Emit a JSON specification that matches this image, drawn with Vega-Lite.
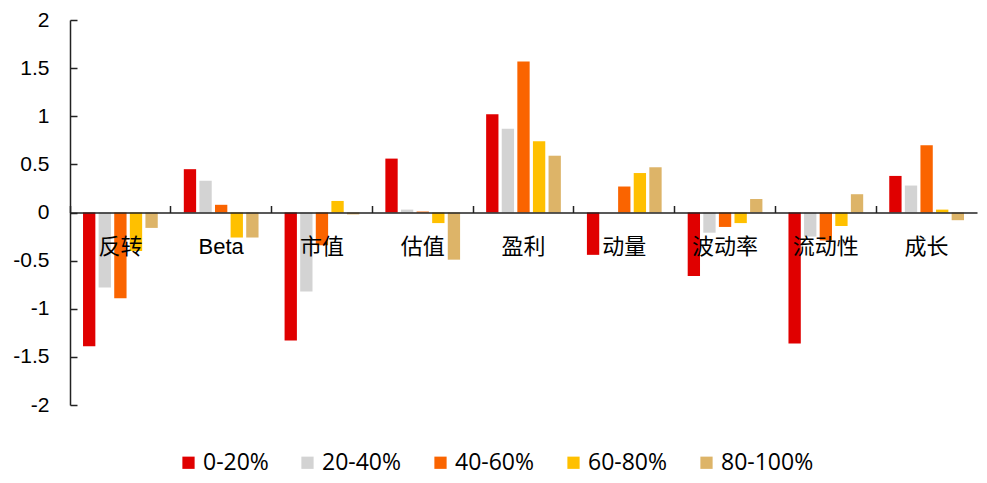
{
  "$schema": "https://vega.github.io/schema/vega-lite/v6.json",
  "width": 907,
  "height": 385,
  "autosize": {"type": "none"},
  "padding": {"left": 70, "top": 20, "right": 10, "bottom": 78},
  "background": "white",
  "config": {"view": {"stroke": null}},
  "data": {
    "values": [
      {"cat": "反转", "grp": "0-20%", "v": -1.39},
      {"cat": "反转", "grp": "20-40%", "v": -0.78},
      {"cat": "反转", "grp": "40-60%", "v": -0.89},
      {"cat": "反转", "grp": "60-80%", "v": -0.4},
      {"cat": "反转", "grp": "80-100%", "v": -0.16},
      {"cat": "Beta", "grp": "0-20%", "v": 0.45},
      {"cat": "Beta", "grp": "20-40%", "v": 0.33},
      {"cat": "Beta", "grp": "40-60%", "v": 0.08},
      {"cat": "Beta", "grp": "60-80%", "v": -0.26},
      {"cat": "Beta", "grp": "80-100%", "v": -0.26},
      {"cat": "市值", "grp": "0-20%", "v": -1.33},
      {"cat": "市值", "grp": "20-40%", "v": -0.82},
      {"cat": "市值", "grp": "40-60%", "v": -0.34},
      {"cat": "市值", "grp": "60-80%", "v": 0.12},
      {"cat": "市值", "grp": "80-100%", "v": -0.02},
      {"cat": "估值", "grp": "0-20%", "v": 0.56},
      {"cat": "估值", "grp": "20-40%", "v": 0.03},
      {"cat": "估值", "grp": "40-60%", "v": 0.01},
      {"cat": "估值", "grp": "60-80%", "v": -0.11},
      {"cat": "估值", "grp": "80-100%", "v": -0.49},
      {"cat": "盈利", "grp": "0-20%", "v": 1.02},
      {"cat": "盈利", "grp": "20-40%", "v": 0.87},
      {"cat": "盈利", "grp": "40-60%", "v": 1.57},
      {"cat": "盈利", "grp": "60-80%", "v": 0.74},
      {"cat": "盈利", "grp": "80-100%", "v": 0.59},
      {"cat": "动量", "grp": "0-20%", "v": -0.44},
      {"cat": "动量", "grp": "20-40%", "v": 0.0},
      {"cat": "动量", "grp": "40-60%", "v": 0.27},
      {"cat": "动量", "grp": "60-80%", "v": 0.41},
      {"cat": "动量", "grp": "80-100%", "v": 0.47},
      {"cat": "波动率", "grp": "0-20%", "v": -0.66},
      {"cat": "波动率", "grp": "20-40%", "v": -0.21},
      {"cat": "波动率", "grp": "40-60%", "v": -0.15},
      {"cat": "波动率", "grp": "60-80%", "v": -0.11},
      {"cat": "波动率", "grp": "80-100%", "v": 0.14},
      {"cat": "流动性", "grp": "0-20%", "v": -1.36},
      {"cat": "流动性", "grp": "20-40%", "v": -0.25},
      {"cat": "流动性", "grp": "40-60%", "v": -0.29},
      {"cat": "流动性", "grp": "60-80%", "v": -0.14},
      {"cat": "流动性", "grp": "80-100%", "v": 0.19},
      {"cat": "成长", "grp": "0-20%", "v": 0.38},
      {"cat": "成长", "grp": "20-40%", "v": 0.28},
      {"cat": "成长", "grp": "40-60%", "v": 0.7},
      {"cat": "成长", "grp": "60-80%", "v": 0.03},
      {"cat": "成长", "grp": "80-100%", "v": -0.08}
    ]
  },
  "mark": {"type": "bar"},
  "encoding": {
    "x": {
      "field": "cat",
      "type": "nominal",
      "sort": ["反转", "Beta", "市值", "估值", "盈利", "动量", "波动率", "流动性", "成长"],
      "scale": {"paddingInner": 0, "paddingOuter": 0},
      "axis": {
        "title": null,
        "offset": -192.5,
        "zindex": 1,
        "labelAngle": 0,
        "bandPosition": 0,
        "domainColor": "#222222",
        "domainWidth": 1.5,
        "tickColor": "#222222",
        "tickWidth": 1.5,
        "tickSize": -7,
        "labelFont": "Liberation Sans, Noto Sans CJK SC",
        "labelFontSize": 22,
        "labelColor": "#000000",
        "labelPadding": 31,
        "labelBaseline": "top"
      }
    },
    "xOffset": {
      "field": "grp",
      "type": "nominal",
      "sort": ["0-20%", "20-40%", "40-60%", "60-80%", "80-100%"],
      "scale": {"paddingInner": 0.21, "paddingOuter": 0.835}
    },
    "y": {
      "field": "v",
      "type": "quantitative",
      "scale": {"domain": [-2, 2], "nice": false, "zero": false},
      "axis": {
        "title": null,
        "grid": false,
        "values": [-2, -1.5, -1, -0.5, 0, 0.5, 1, 1.5, 2],
        "labelExpr": "toString(datum.value)",
        "domainColor": "#222222",
        "domainWidth": 1.5,
        "tickColor": "#222222",
        "tickWidth": 1.5,
        "tickSize": -7,
        "labelFont": "Liberation Sans",
        "labelFontSize": 21,
        "labelColor": "#000000",
        "labelPadding": 28
      }
    },
    "color": {
      "field": "grp",
      "type": "nominal",
      "sort": ["0-20%", "20-40%", "40-60%", "60-80%", "80-100%"],
      "scale": {
        "domain": ["0-20%", "20-40%", "40-60%", "60-80%", "80-100%"],
        "range": ["#E00000", "#D3D3D3", "#FA6400", "#FFC000", "#DDB468"]
      },
      "legend": {
        "title": null,
        "orient": "none",
        "direction": "horizontal",
        "legendX": 107,
        "legendY": 431,
        "padding": 0,
        "symbolType": "square",
        "symbolSize": 150,
        "symbolStrokeWidth": 0,
        "labelFont": "Open Sans",
        "labelFontSize": 23,
        "labelColor": "#000000",
        "labelOffset": 3,
        "columnPadding": 27
      }
    }
  }
}
